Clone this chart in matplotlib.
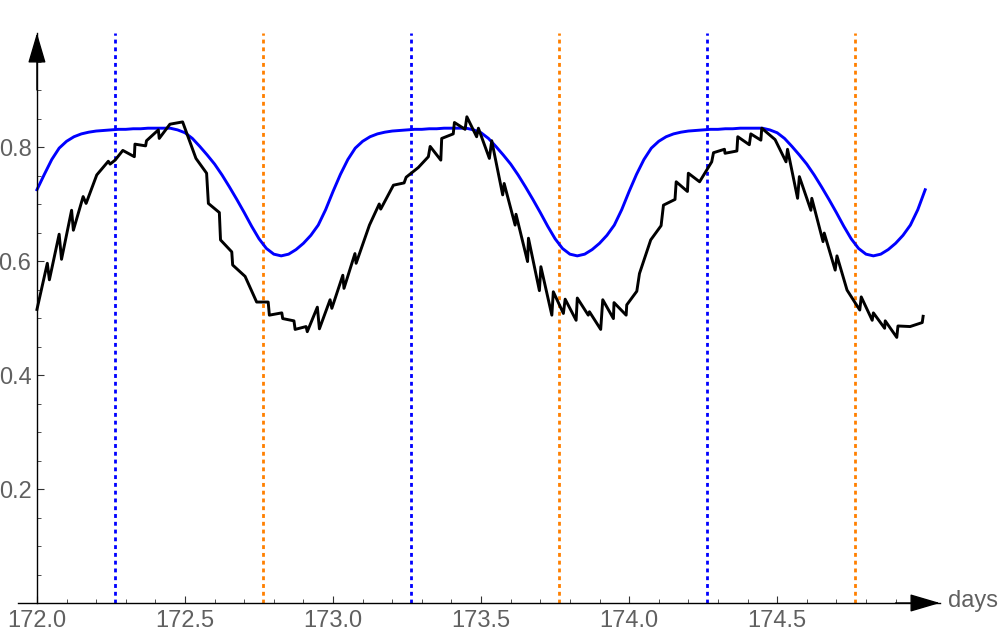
import numpy as np
import matplotlib
matplotlib.use("Agg")
import matplotlib.pyplot as plt
from matplotlib.ticker import FixedLocator

plt.rcParams['font.family'] = ['Liberation Sans', 'DejaVu Sans']

# model curve (blue), read every 0.025 day
blue_x = np.round(np.arange(172.0, 175.001, 0.025), 3)
blue_y = [0.725, 0.752, 0.778, 0.798, 0.810, 0.818, 0.823, 0.826, 0.828, 0.829,
          0.830, 0.831, 0.831, 0.832, 0.832, 0.833, 0.833, 0.833, 0.833, 0.830,
          0.825, 0.815, 0.801, 0.786, 0.770, 0.751, 0.730, 0.708, 0.685, 0.661,
          0.639, 0.622, 0.612, 0.609, 0.612, 0.620, 0.631, 0.645, 0.663, 0.690,
          0.722, 0.752, 0.778, 0.798, 0.810, 0.818, 0.823, 0.826, 0.828, 0.829,
          0.830, 0.831, 0.831, 0.832, 0.832, 0.833, 0.833, 0.833, 0.833, 0.830,
          0.825, 0.815, 0.801, 0.786, 0.770, 0.751, 0.730, 0.708, 0.685, 0.661,
          0.639, 0.622, 0.612, 0.609, 0.612, 0.620, 0.631, 0.645, 0.663, 0.690,
          0.722, 0.752, 0.778, 0.798, 0.810, 0.818, 0.823, 0.826, 0.828, 0.829,
          0.830, 0.831, 0.831, 0.832, 0.832, 0.833, 0.833, 0.833, 0.833, 0.830,
          0.825, 0.815, 0.801, 0.786, 0.770, 0.751, 0.730, 0.708, 0.685, 0.661,
          0.639, 0.622, 0.612, 0.609, 0.612, 0.620, 0.631, 0.645, 0.663, 0.690,
          0.725]

# measured curve (black)
black_x = [172.000, 172.035, 172.042, 172.075, 172.083, 172.117, 172.123, 172.156, 172.166, 172.202,
           172.241, 172.247, 172.264, 172.290, 172.329, 172.331, 172.367, 172.370, 172.410, 172.413,
           172.449, 172.492, 172.537, 172.573, 172.579, 172.616, 172.620, 172.658, 172.661, 172.703,
           172.742, 172.781, 172.785, 172.827, 172.830, 172.868, 172.872, 172.909, 172.913, 172.947,
           172.954, 172.990, 172.996, 173.033, 173.037, 173.074, 173.078, 173.123, 173.156, 173.161,
           173.204, 173.240, 173.247, 173.288, 173.322, 173.328, 173.364, 173.367, 173.406, 173.410,
           173.446, 173.452, 173.485, 173.491, 173.528, 173.536, 173.573, 173.578, 173.615, 173.618,
           173.657, 173.660, 173.697, 173.702, 173.739, 173.744, 173.778, 173.784, 173.821, 173.825,
           173.862, 173.866, 173.904, 173.911, 173.947, 173.949, 173.990, 173.992, 174.026, 174.035,
           174.073, 174.108, 174.116, 174.155, 174.159, 174.197, 174.200, 174.238, 174.279, 174.285,
           174.322, 174.324, 174.364, 174.367, 174.406, 174.411, 174.445, 174.448, 174.493, 174.530,
           174.535, 174.569, 174.575, 174.614, 174.617, 174.655, 174.659, 174.696, 174.702, 174.736,
           174.779, 174.784, 174.821, 174.825, 174.863, 174.865, 174.904, 174.908, 174.949, 174.990,
           174.993]
black_y = [0.515, 0.596, 0.567, 0.647, 0.603, 0.689, 0.654, 0.713, 0.701, 0.751,
           0.775, 0.770, 0.777, 0.794, 0.783, 0.805, 0.802, 0.811, 0.830, 0.815,
           0.840, 0.844, 0.780, 0.754, 0.701, 0.685, 0.637, 0.616, 0.593, 0.573,
           0.528, 0.528, 0.505, 0.509, 0.499, 0.495, 0.480, 0.485, 0.476, 0.519,
           0.481, 0.532, 0.517, 0.575, 0.552, 0.613, 0.596, 0.663, 0.700, 0.691,
           0.733, 0.737, 0.747, 0.764, 0.783, 0.801, 0.777, 0.815, 0.823, 0.843,
           0.831, 0.853, 0.818, 0.833, 0.780, 0.811, 0.716, 0.736, 0.663, 0.682,
           0.599, 0.640, 0.548, 0.590, 0.505, 0.546, 0.508, 0.533, 0.496, 0.535,
           0.505, 0.511, 0.480, 0.532, 0.499, 0.527, 0.505, 0.523, 0.547, 0.578,
           0.637, 0.662, 0.698, 0.708, 0.739, 0.722, 0.754, 0.739, 0.774, 0.790,
           0.796, 0.789, 0.793, 0.818, 0.804, 0.823, 0.812, 0.833, 0.813, 0.774,
           0.796, 0.710, 0.748, 0.689, 0.710, 0.634, 0.649, 0.584, 0.609, 0.549,
           0.514, 0.537, 0.496, 0.509, 0.482, 0.495, 0.466, 0.486, 0.485, 0.492,
           0.503]

blue_marks = [172.264, 173.264, 174.264]
orange_marks = [172.764, 173.764, 174.764]

xticks = [172.0, 172.5, 173.0, 173.5, 174.0, 174.5]
yticks = [0.2, 0.4, 0.6, 0.8]

fig = plt.figure(figsize=(10, 6.34), dpi=100)
ax = fig.add_axes([0.018, 31 / 634, 0.922, 570 / 634])
ax.set_xlim(171.936, 175.05)
ax.set_ylim(0, 1.0)

for x in blue_marks:
    ax.axvline(x, color='#0000ff', lw=2.0, linestyle=(0, (1.4, 1.4)), zorder=1)
for x in orange_marks:
    ax.axvline(x, color='#ff8000', lw=2.0, linestyle=(0, (1.4, 1.4)), zorder=1)

ax.plot(blue_x, blue_y, color='#0000ff', lw=2.1, zorder=2)
ax.plot(black_x, black_y, color='black', lw=2.1, zorder=3)

# Mathematica style axes
ax.spines['top'].set_visible(False)
ax.spines['right'].set_visible(False)
ax.spines['left'].set_position(('data', 172.0))
ax.spines['left'].set_linewidth(1.0)
ax.spines['bottom'].set_linewidth(1.0)

ax.set_xticks(xticks)
ax.set_xticklabels(['%.1f' % t for t in xticks])
ax.set_yticks(yticks)
ax.set_yticklabels(['%.1f' % t for t in yticks])
ax.xaxis.set_minor_locator(FixedLocator(np.round(np.arange(172.1, 175.01, 0.1), 2)))
ax.yaxis.set_minor_locator(FixedLocator(np.round(np.arange(0.05, 0.96, 0.05), 2)))
ax.tick_params(which='both', direction='in', color='#333333', labelcolor='#606060',
               labelsize=17)
ax.tick_params(which='major', length=5, width=0.8)
ax.tick_params(which='minor', length=3, width=0.6)
ax.tick_params(axis='x', pad=5)
ax.tick_params(axis='y', pad=4)

arrow = dict(arrowstyle='-|>,head_length=0.95,head_width=0.28', color='black',
             lw=1.0, mutation_scale=20, shrinkA=0, shrinkB=0)
ax.annotate('', xy=(175.05, 0), xytext=(174.9, 0), arrowprops=arrow,
            annotation_clip=False)
ax.annotate('', xy=(172.0, 1.0), xytext=(172.0, 0.9), arrowprops=arrow,
            annotation_clip=False)

ax.text(1.009, 0.003, 'days', transform=ax.transAxes, ha='left', va='center',
        fontsize=17, color='#606060')

fig.savefig('out.png', dpi=100)
